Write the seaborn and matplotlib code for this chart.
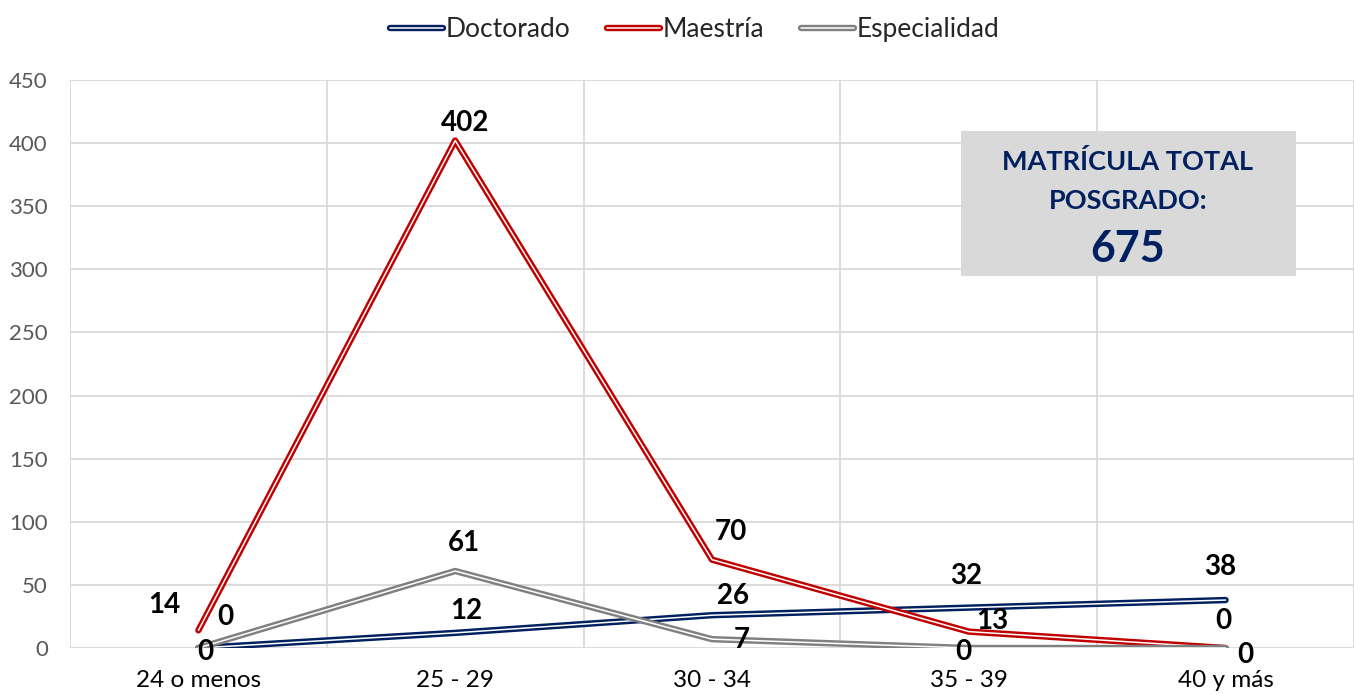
import pandas as pd
import numpy as np
import matplotlib
matplotlib.use("Agg")
import matplotlib.pyplot as plt
import matplotlib.patheffects as pe
from matplotlib.patches import Rectangle
import seaborn as sns

# data
edades = ["24 o menos", "25 - 29", "30 - 34", "35 - 39", "40 y más"]
doctorado = [0, 12, 26, 32, 38]
maestria = [14, 402, 70, 13, 0]
especialidad = [0, 61, 7, 0, 0]
total = 675

series = {"Doctorado": doctorado, "Maestría": maestria, "Especialidad": especialidad}
colores = {"Doctorado": "#002060", "Maestría": "#C00000", "Especialidad": "#808080"}

# label offsets in pixels (Excel put them in slightly odd places)
offsets = {
    "Doctorado": [(7, -4), (11, 22), (21, 19), (-3, 32), (-5, 33)],
    "Maestría": [(-34, 25), (10, 18), (19, 28), (23, 11), (20, -7)],
    "Especialidad": [(27, 31), (9, 28), (30, -1), (-5, -4), (-2, 27)],
}

rows = []
for nombre, vals in series.items():
    for i, v in enumerate(vals):
        rows.append({"pos": i, "edad": edades[i], "valor": v, "grado": nombre})
df = pd.DataFrame(rows)

sns.set_style("white")
plt.rcParams["font.family"] = ["Lato", "DejaVu Sans"]

fig = plt.figure(figsize=(13.54, 6.95), dpi=100)
ax = fig.add_axes([0.0517, 0.0676, 0.9483, 0.8174])

for nombre in series:
    sub = df[df["grado"] == nombre]
    sns.lineplot(data=sub, x="pos", y="valor", ax=ax, color="white", lw=1.1,
                 label=nombre, zorder=3,
                 path_effects=[pe.Stroke(linewidth=4.6, foreground=colores[nombre]), pe.Normal()])

for nombre, vals in series.items():
    for i, v in enumerate(vals):
        dx, dy = offsets[nombre][i]
        ax.annotate(str(v), (i, v), xytext=(dx, dy), textcoords="offset pixels",
                    ha="center", va="center", fontsize=20, fontweight="bold",
                    color="black", zorder=5)

ax.set_xlim(-0.5, 4.49)
ax.set_ylim(0, 450)
ax.set_yticks(np.arange(0, 451, 50))
ax.set_xticks(range(len(edades)))
ax.set_xticklabels(edades)
ax.set_xticks(np.arange(-0.5, 5, 1), minor=True)
ax.grid(axis="y", color="#D9D9D9", lw=1.3)
ax.grid(axis="x", which="minor", color="#D9D9D9", lw=1.3)
ax.tick_params(axis="y", length=0, labelsize=16, labelcolor="#595959", pad=16)
ax.tick_params(axis="x", which="both", length=0, labelsize=17.5, labelcolor="black", pad=16)
for s in ax.spines.values():
    s.set_visible(False)
ax.set_xlabel("")
ax.set_ylabel("")

h, l = ax.get_legend_handles_labels()
ax.legend_.remove()
fig.legend(h, l, loc="upper center", bbox_to_anchor=(0.513, 1.01), ncol=3,
           frameon=False, fontsize=19, handlelength=2.0, handletextpad=0.1,
           columnspacing=1.4)

# total box
fig.patches.append(Rectangle((0.7098, 0.6029), 0.2474, 0.2086, transform=fig.transFigure,
                             facecolor="#D9D9D9", edgecolor="none", zorder=4))
cx = 1128 / 1354
fig.text(cx, 1 - 161 / 695, "MATRÍCULA TOTAL", ha="center", va="center",
         fontsize=19.5, fontweight="bold", color="#002060", zorder=6)
fig.text(cx, 1 - 201 / 695, "POSGRADO:", ha="center", va="center",
         fontsize=19.5, fontweight="bold", color="#002060", zorder=6)
fig.text(cx, 1 - 249 / 695, str(total), ha="center", va="center",
         fontsize=31, fontweight="bold", color="#002060", zorder=6)

plt.savefig("out.png", dpi=100)
